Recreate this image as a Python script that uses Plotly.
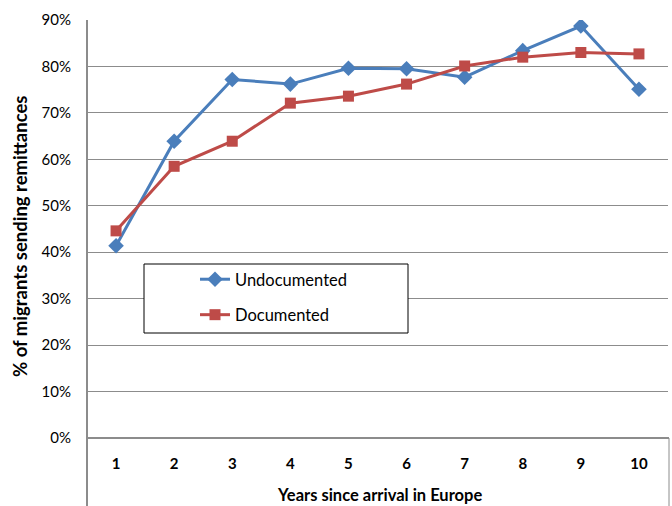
import plotly.graph_objects as go

years = [1, 2, 3, 4, 5, 6, 7, 8, 9, 10]
undocumented = [0.414, 0.639, 0.772, 0.762, 0.796, 0.795, 0.777, 0.834, 0.887, 0.751]
documented = [0.446, 0.585, 0.639, 0.721, 0.736, 0.762, 0.801, 0.820, 0.830, 0.827]
y_ticks = [0, 0.1, 0.2, 0.3, 0.4, 0.5, 0.6, 0.7, 0.8, 0.9]
y_ticktext = ["0%", "10%", "20%", "30%", "40%", "50%", "60%", "70%", "80%", "90%"]

FONT = "Lato"
BLUE = "#4A7EBB"
RED = "#BE4B48"
GRID = "#8C8C8C"

fig = go.Figure()
fig.add_trace(go.Scatter(
    x=years, y=undocumented, name="Undocumented", mode="lines+markers",
    line=dict(color=BLUE, width=3),
    marker=dict(symbol="diamond", size=12, color=BLUE),
    legendgroup="a",
))
fig.add_trace(go.Scatter(
    x=years, y=documented, name="Documented", mode="lines+markers",
    line=dict(color=RED, width=3),
    marker=dict(symbol="square", size=11, color=RED),
    legendgroup="b",
))

L, R, T, B = 87, 4, 20, 68
W, H = 672, 506
pw, ph = W - L - R, H - T - B

def px(x):
    return (x - L) / pw

def py(y):
    return (H - B - y) / ph

fig.update_layout(
    width=W, height=H,
    margin=dict(l=L, r=R, t=T, b=B, pad=0),
    paper_bgcolor="white", plot_bgcolor="white",
    font=dict(family=FONT, color="black"),
    showlegend=True,
    legend=dict(
        x=px(195), y=py(262), xanchor="left", yanchor="top",
        bgcolor="rgba(0,0,0,0)", borderwidth=0,
        font=dict(family=FONT, size=16.5, color="black"),
        tracegroupgap=11,
    ),
    xaxis=dict(
        range=[0.5, 10.5], tickmode="array", tickvals=years,
        ticktext=[str(v) for v in years],
        tickfont=dict(family=FONT, size=15, color="black", weight="bold"),
        showgrid=False, zeroline=False, showline=False, ticks="",
        ticklabelstandoff=15,
    ),
    yaxis=dict(
        range=[0, 0.9], tickmode="array", tickvals=y_ticks, ticktext=y_ticktext,
        tickfont=dict(family=FONT, size=15, color="black"),
        showgrid=True, gridcolor=GRID, gridwidth=1,
        zeroline=False, showline=False, ticks="",
        ticklabelstandoff=15,
    ),
    shapes=[
        dict(type="rect", xref="paper", yref="paper",
             x0=px(144), x1=px(408), y0=py(333), y1=py(264),
             line=dict(color="black", width=1), fillcolor="white", layer="above"),
        dict(type="line", xref="paper", yref="paper",
             x0=0, x1=0, y0=py(506), y1=1, line=dict(color=GRID, width=2)),
        dict(type="line", xref="paper", yref="paper",
             x0=px(669), x1=px(669), y0=py(506), y1=0, line=dict(color=GRID, width=1)),
        dict(type="line", xref="paper", yref="paper",
             x0=0, x1=px(669), y0=0, y1=0, line=dict(color=GRID, width=2)),
    ],
    annotations=[
        dict(text="<b>% of migrants sending remittances</b>", xref="paper", yref="paper",
             x=px(20), y=py(237), textangle=-90, showarrow=False,
             font=dict(family=FONT, size=18.5, color="black"),
             xanchor="center", yanchor="middle"),
        dict(text="<b>Years since arrival in Europe</b>", xref="paper", yref="paper",
             x=px(379), y=py(495), showarrow=False,
             font=dict(family=FONT, size=16.5, color="black"),
             xanchor="center", yanchor="middle"),
    ],
)

fig.write_html("out.html")
